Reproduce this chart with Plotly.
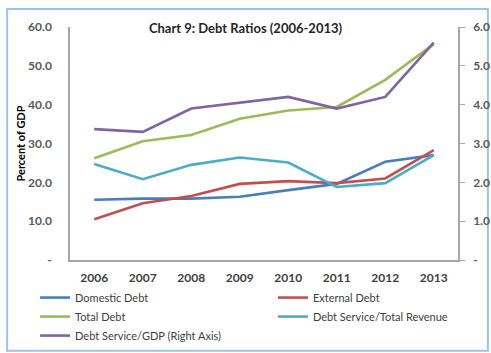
import plotly.graph_objects as go

years = ["2006", "2007", "2008", "2009", "2010", "2011", "2012", "2013"]
domestic_debt = [15.5, 15.8, 15.8, 16.3, 18.0, 19.6, 25.3, 27.0]
external_debt = [10.5, 14.6, 16.5, 19.6, 20.3, 19.8, 21.0, 28.3]
total_debt = [26.2, 30.6, 32.2, 36.4, 38.5, 39.4, 46.4, 55.6]
ds_revenue = [24.7, 20.8, 24.5, 26.4, 25.1, 18.8, 19.8, 27.0]
ds_gdp = [3.37, 3.30, 3.90, 4.05, 4.20, 3.90, 4.20, 5.60]

left_ticks = [0, 10, 20, 30, 40, 50, 60]
left_text = ["-", "10.0", "20.0", "30.0", "40.0", "50.0", "60.0"]
right_ticks = [0, 1, 2, 3, 4, 5, 6]
right_text = ["-", "1.0", "2.0", "3.0", "4.0", "5.0", "6.0"]

FONT = "Lato, 'Open Sans', sans-serif"
LW = 2.6


def bold(labels):
    return ["<b>%s</b>" % s for s in labels]


fig = go.Figure()
# first legend column
fig.add_trace(go.Scatter(x=years, y=domestic_debt, name="Domestic Debt", mode="lines",
                         line=dict(color="#4A7EBB", width=LW), legend="legend"))
fig.add_trace(go.Scatter(x=years, y=total_debt, name="Total Debt", mode="lines",
                         line=dict(color="#9BBB59", width=LW), legend="legend"))
fig.add_trace(go.Scatter(x=years, y=ds_gdp, name="Debt Service/GDP (Right Axis)", mode="lines",
                         line=dict(color="#8064A2", width=LW), yaxis="y2", legend="legend"))
# second legend column
fig.add_trace(go.Scatter(x=years, y=external_debt, name="External Debt", mode="lines",
                         line=dict(color="#C0504D", width=LW), legend="legend2"))
fig.add_trace(go.Scatter(x=years, y=ds_revenue, name="Debt Service/Total Revenue", mode="lines",
                         line=dict(color="#4BACC6", width=LW), legend="legend2"))

legend_style = dict(
    orientation="v", xanchor="left", yanchor="top", itemwidth=30, tracegroupgap=0,
    font=dict(size=11, color="#404040", family=FONT), bgcolor="rgba(0,0,0,0)",
)

fig.update_layout(
    width=491, height=353,
    margin=dict(l=70, r=33, t=27, b=93, autoexpand=False),
    paper_bgcolor="white", plot_bgcolor="white",
    font=dict(family=FONT, color="#404040", size=11),
    showlegend=True,
    xaxis=dict(
        type="category", range=[-0.5, 7.5], showgrid=False, zeroline=False,
        showline=True, linecolor="#A6A6A6", linewidth=1.5, ticks="",
        tickvals=years, ticktext=bold(years),
        tickfont=dict(size=12, color="#404040", family=FONT), ticklabelstandoff=6,
    ),
    yaxis=dict(
        range=[0, 60], tickvals=left_ticks, ticktext=bold(left_text), showgrid=False,
        zeroline=False, showline=True, linecolor="#A6A6A6", linewidth=1.5, ticks="",
        tickfont=dict(size=12, color="#595959", family=FONT), ticklabelstandoff=14,
        title=dict(text="<b>Percent of GDP</b>", font=dict(size=11, color="#000000"), standoff=0),
    ),
    yaxis2=dict(
        range=[0, 6], tickvals=right_ticks, ticktext=bold(right_text), overlaying="y", side="right",
        showgrid=False, zeroline=False, showline=True, linecolor="#A6A6A6", linewidth=1.5,
        ticks="outside", ticklen=5, tickcolor="#A6A6A6", tickwidth=1.2,
        tickfont=dict(size=12, color="#595959", family=FONT), ticklabelstandoff=6,
    ),
    legend=dict(x=-0.09, y=-0.099, **legend_style),
    legend2=dict(x=0.523, y=-0.099, **legend_style),
    title=dict(text="<b>Chart 9: Debt Ratios (2006-2013)</b>", x=0.5, xanchor="center",
               y=0.92, yanchor="middle", font=dict(size=13, color="#262626", family=FONT)),
    shapes=[dict(type="rect", xref="paper", yref="paper",
                 x0=-0.162, x1=1.077, y0=-0.39, y1=1.077,
                 line=dict(color="#9DC3E6", width=2), fillcolor="rgba(0,0,0,0)", layer="below")],
)

fig.write_html("out.html")
